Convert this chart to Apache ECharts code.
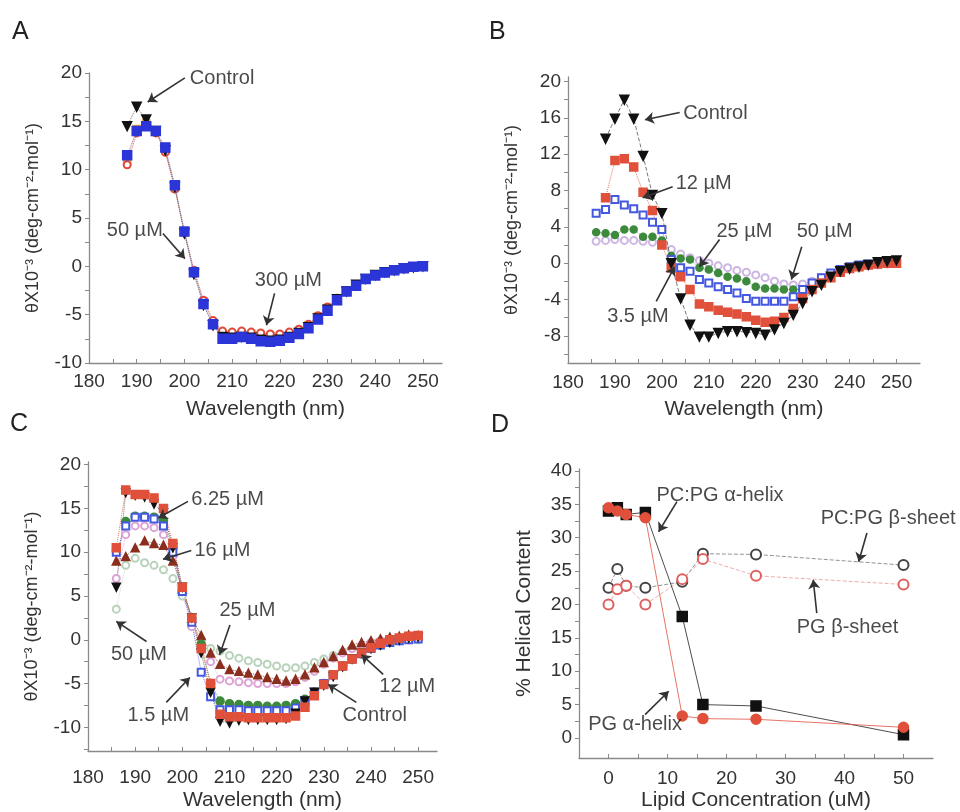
<!DOCTYPE html>
<html><head><meta charset="utf-8">
<script src="https://cdn.jsdelivr.net/npm/echarts@6/dist/echarts.min.js"></script>
<style>html,body{margin:0;padding:0;background:#fff}#c{width:960px;height:812px}</style>
</head><body><div id="c"></div>
<script>
// ---------- DATA ----------
const wlA = [188,190,192,194,196,198,200,202,204,206,208,210,212,214,216,218,220,222,224,226,228,230,232,234,236,238,240,242,244,246,248,250];
const A_control = [14.5,16.5,15.2,14.0,12.0,8.2,3.4,-0.8,-4.0,-6.1,-7.3,-7.4,-7.3,-7.4,-7.6,-7.7,-7.6,-7.3,-6.9,-6.3,-5.4,-4.5,-3.4,-2.6,-1.9,-1.3,-0.9,-0.6,-0.4,-0.2,-0.1,0.0];
const A_50 = [10.5,13.8,14.6,13.8,11.8,8.0,3.6,-0.4,-3.5,-5.6,-6.7,-6.8,-6.7,-6.8,-6.9,-7.0,-7.0,-6.8,-6.5,-6.0,-5.1,-4.2,-3.3,-2.5,-1.9,-1.3,-0.9,-0.6,-0.4,-0.2,-0.1,0.0];
const A_100 = [11.0,14.2,14.8,13.9,12.0,8.1,3.5,-0.5,-3.6,-5.8,-6.9,-7.0,-6.9,-7.0,-7.1,-7.2,-7.2,-7.0,-6.7,-6.1,-5.2,-4.3,-3.3,-2.5,-1.9,-1.3,-0.9,-0.6,-0.4,-0.2,-0.1,0.0];
const A_300 = [11.5,14.0,14.5,14.0,12.3,8.4,3.6,-0.6,-3.9,-6.0,-7.5,-7.5,-7.3,-7.5,-7.75,-7.8,-7.7,-7.4,-7.0,-6.4,-5.5,-4.6,-3.5,-2.6,-2.0,-1.3,-0.95,-0.65,-0.4,-0.2,-0.05,0.0];

const wlBC = [186,188,190,192,194,196,198,200,202,204,206,208,210,212,214,216,218,220,222,224,226,228,230,232,234,236,238,240,242,244,246,248,250];
const B_control = [null,13.7,15.9,18.0,15.9,11.8,7.5,5.5,0.0,-3.9,-6.8,-8.1,-8.1,-7.7,-7.5,-7.5,-7.6,-7.7,-7.9,-7.3,-6.6,-5.7,-4.4,-3.1,-2.4,-1.5,-0.9,-0.6,-0.4,-0.2,0.1,0.2,0.3];
const B_3p5 = [null,7.2,11.3,11.5,10.6,7.8,5.8,2.0,-0.5,-1.5,-2.9,-4.5,-4.8,-5.2,-5.4,-5.6,-5.9,-6.3,-6.5,-6.4,-6.0,-5.0,-3.9,-2.9,-2.2,-1.6,-1.0,-0.6,-0.4,-0.2,-0.1,0.0,0.0];
const B_12 = [5.5,5.9,7.0,6.4,6.0,5.3,4.5,3.7,0.4,-0.5,-0.9,-1.8,-2.2,-2.6,-2.9,-3.3,-3.9,-4.2,-4.2,-4.2,-4.2,-3.7,-2.9,-2.2,-1.6,-1.1,-0.7,-0.4,-0.2,-0.1,0.0,0.0,0.0];
const B_25 = [3.4,3.3,3.1,3.7,3.7,2.9,2.9,2.5,0.8,0.5,0.4,-0.5,-0.7,-1.1,-1.5,-1.7,-2.0,-2.6,-2.8,-2.8,-2.9,-2.9,-2.9,-2.3,-1.7,-1.2,-0.8,-0.5,-0.3,-0.2,-0.1,0.0,0.0];
const B_50 = [2.4,2.5,2.6,2.5,2.5,2.4,2.3,2.2,1.5,1.0,0.6,0.3,0.0,-0.3,-0.5,-0.8,-1.0,-1.3,-1.6,-2.0,-2.3,-2.4,-2.3,-2.0,-1.6,-1.2,-0.9,-0.6,-0.4,-0.3,-0.2,-0.1,0.0];

const C_control = [6.0,16.8,16.5,16.3,15.5,14.5,10.5,6.0,2.5,-1.5,-6.0,-9.3,-9.5,-9.2,-9.1,-9.1,-9.1,-9.1,-9.0,-8.4,-7.0,-6.0,-5.2,-4.2,-3.1,-2.2,-1.5,-1.0,-0.6,-0.3,0.0,0.2,0.3];
const C_1p5 = [10.0,13.0,14.0,14.0,13.8,13.0,10.0,5.5,2.0,-3.7,-6.5,-8.0,-8.0,-8.0,-8.1,-8.1,-8.1,-8.1,-8.1,-7.8,-7.0,-6.0,-5.0,-4.0,-3.0,-2.2,-1.6,-1.0,-0.6,-0.3,-0.1,0.0,0.1];
const C_6p25 = [10.5,17.1,16.6,16.6,16.2,15.0,11.0,6.0,2.5,-1.0,-5.0,-8.5,-8.8,-8.8,-8.9,-8.9,-8.9,-8.9,-8.9,-8.7,-7.7,-6.4,-5.1,-4.0,-3.0,-2.2,-1.5,-0.9,-0.4,0.0,0.2,0.4,0.5];
const C_12 = [null,13.5,14.1,14.1,14.0,13.6,10.5,5.5,2.5,-0.5,-5.0,-7.0,-7.3,-7.4,-7.5,-7.5,-7.6,-7.6,-7.5,-7.3,-6.8,-6.0,-5.0,-4.0,-3.0,-2.2,-1.6,-1.0,-0.6,-0.3,-0.1,0.1,0.2];
const C_16 = [9.0,9.5,10.5,11.3,11.0,10.8,9.0,5.8,2.5,0.5,-1.5,-2.8,-3.4,-3.6,-3.8,-4.0,-4.3,-4.5,-4.7,-4.5,-4.0,-3.2,-2.6,-1.9,-1.2,-0.6,-0.3,-0.1,0.1,0.3,0.4,0.55,0.5];
const C_25 = [7.0,12.0,13.0,13.0,12.8,12.0,9.5,5.5,1.5,-1.0,-2.5,-4.5,-4.7,-4.8,-4.9,-5.0,-5.0,-5.0,-5.0,-4.8,-4.3,-3.6,-2.8,-2.1,-1.5,-1.0,-0.6,-0.3,-0.1,0.0,0.1,0.1,0.2];
const C_50 = [3.5,8.5,9.3,8.8,8.5,8.0,7.0,5.0,2.0,0.0,-1.0,-1.3,-1.8,-2.1,-2.4,-2.6,-2.8,-3.0,-3.2,-3.2,-3.0,-2.6,-2.2,-1.8,-1.4,-1.0,-0.7,-0.5,-0.3,-0.2,-0.1,0.0,0.0];

const concD = [0,1.5,3,6.25,12.5,16,25,50];
const D_pcpg_alpha = [34.0,34.5,33.5,33.8,18.2,5.0,4.8,0.5];
const D_pg_alpha = [34.5,34.0,33.5,33.0,3.3,2.9,2.8,1.6];
const D_pcpg_beta = [22.5,25.3,22.8,22.5,23.4,27.6,27.5,25.9];
const D_pg_beta = [20.0,22.3,22.8,20.0,23.8,26.8,24.3,23.0];

// tick labels / tick marks
const wlLabels = [180,190,200,210,220,230,240,250];
const wlTicks = [180,185,190,195,200,205,210,215,220,225,230,235,240,245,250];
const yLabelsA = [-10,-5,0,5,10,15,20];
const yTicksA = [-10,-7.5,-5,-2.5,0,2.5,5,7.5,10,12.5,15,17.5,20];
const yLabelsB = [-8,-4,0,4,8,12,16,20];
const yTicksB = [-10,-8,-6,-4,-2,0,2,4,6,8,10,12,14,16,18,20];
const yLabelsC = [-10,-5,0,5,10,15,20];
const yTicksC = [-12.5,-10,-7.5,-5,-2.5,0,2.5,5,7.5,10,12.5,15,17.5,20];
const xLabelsD = [0,10,20,30,40,50];
const xTicksD = [0,5,10,15,20,25,30,35,40,45,50];
const yLabelsD = [0,5,10,15,20,25,30,35,40];
const yTicksD = [0,2.5,5,7.5,10,12.5,15,17.5,20,22.5,25,27.5,30,32.5,35,37.5,40];

// annotations: [text, textX, textY, arrowFromX, arrowFromY, arrowToX, arrowToY]
const annA = [
  ["Control", 207.9, 19.4, 200.1, 19.5, 192.3, 17.0],
  ["50 µM", 189.6, 3.75, 195.5, 3.4, 200.1, 0.8],
  ["300 µM", 221.8, -1.45, 218.9, -2.8, 217.2, -6.1]
];
const annB = [
  ["Control", 211.4, 16.5, 203.8, 16.6, 196.4, 15.8],
  ["12 µM", 208.9, 8.8, 202.3, 8.4, 195.9, 7.2],
  ["25 µM", 217.6, 3.5, 212.3, 2.6, 208.0, -0.4],
  ["50 µM", 234.7, 3.5, 229.8, 1.8, 227.6, -1.8],
  ["3.5 µM", 194.9, -5.9, 198.8, -4.2, 202.7, -0.4]
];
const annC = [
  ["6.25 µM", 209.6, 16.0, 201.2, 15.8, 194.9, 13.9],
  ["16 µM", 208.5, 10.2, 201.9, 10.2, 195.9, 9.2],
  ["25 µM", 213.8, 3.4, 210.1, 1.7, 207.9, -1.7],
  ["50 µM", 190.8, -1.7, 192.4, -0.2, 186.0, 2.1],
  ["1.5 µM", 194.9, -8.65, 196.6, -7.15, 201.6, -4.3],
  ["12 µM", 247.7, -5.3, 242.6, -3.95, 238.0, -1.7],
  ["Control", 240.8, -8.65, 236.9, -7.15, 230.9, -5.1]
];
const annD = [
  ["PC:PG α-helix", 18.9, 36.4, 11.6, 35.4, 8.5, 30.9],
  ["PC:PG β-sheet", 47.4, 32.9, 43.8, 30.7, 42.4, 26.4],
  ["PG β-sheet", 40.5, 16.5, 35.3, 18.7, 34.7, 23.7],
  ["PG α-helix", 4.5, 2.0, 6.2, 3.5, 10.2, 7.0]
];

// ---------- BUILD ----------
const FF = 'Liberation Sans, Arial, Helvetica, sans-serif';
const TXT = '#1c1c1c';
const AX = '#8a8a8a';
function pairs(xs, ys){ const o=[]; for(let i=0;i<xs.length;i++){ if(ys[i]!==null && ys[i]!==undefined) o.push([xs[i], ys[i]]); } return o; }

function xAxis(gi, min, max, labels, ticks, name, gap, margin){
  return {type:'value', gridIndex:gi, min:min, max:max, name:name, nameLocation:'middle', nameGap:gap,
    nameTextStyle:{fontFamily:FF, fontSize:21, color:'#333'},
    axisLine:{show:true, onZero:false, lineStyle:{color:AX, width:1.3}},
    axisTick:{show:true, inside:true, length:4, customValues:ticks, lineStyle:{color:AX, width:1}},
    axisLabel:{show:true, customValues:labels, margin:margin, fontFamily:FF, fontSize:19, color:'#333'},
    splitLine:{show:false}};
}
function yAxis(gi, min, max, labels, ticks, name, gap, nameSize){
  return {type:'value', gridIndex:gi, min:min, max:max, name:name, nameLocation:'middle', nameGap:gap,
    nameTextStyle:{fontFamily:FF, fontSize:nameSize, color:'#333'},
    axisLine:{show:true, onZero:false, lineStyle:{color:AX, width:1.3}},
    axisTick:{show:true, inside:false, length:4, customValues:ticks, lineStyle:{color:AX, width:1}},
    axisLabel:{show:true, customValues:labels, margin:7, fontFamily:FF, fontSize:19, color:'#333'},
    splitLine:{show:false}};
}
function curve(gi, xs, ys, symbol, color, size, lineType, rot, lineColor, z){
  return {type:'line', xAxisIndex:gi, yAxisIndex:gi, data:pairs(xs, ys), symbol:symbol, symbolSize:size,
    symbolRotate:rot||0, showSymbol:true, connectNulls:false, z:z||2,
    itemStyle:{color:color, borderColor:color, borderWidth:1.5},
    lineStyle:{color:lineColor||color, width:1, type:lineType, opacity:0.8}, silent:true};
}
function annSeries(gi, ann){
  return [
    {type:'lines', coordinateSystem:'cartesian2d', xAxisIndex:gi, yAxisIndex:gi, z:20, silent:true,
      symbol:['none','arrow'], symbolSize:9,
      lineStyle:{color:'#333', width:1.6, opacity:1, curveness:0},
      data:ann.map(a=>({coords:[[a[3],a[4]],[a[5],a[6]]]}))},
    {type:'scatter', xAxisIndex:gi, yAxisIndex:gi, z:21, silent:true, symbolSize:1,
      itemStyle:{color:'rgba(0,0,0,0)'},
      label:{show:true, position:'inside', formatter:'{b}', fontFamily:FF, fontSize:20, color:TXT},
      data:ann.map(a=>({name:a[0], value:[a[1], a[2]]}))}
  ];
}

const yName = 'θX10⁻³ (deg-cm⁻²-mol⁻¹)';
const option = {
  animation:false,
  backgroundColor:'#ffffff',
  grid:[
    {left:89, top:73, width:353, height:290, containLabel:false},
    {left:568, top:77, width:352, height:286, containLabel:false},
    {left:88, top:462, width:349, height:292, containLabel:false},
    {left:579, top:469, width:354, height:289, containLabel:false}
  ],
  xAxis:[
    xAxis(0, 180, 254, wlLabels, wlTicks, 'Wavelength (nm)', 36, 9),
    xAxis(1, 180, 255, wlLabels, wlTicks, 'Wavelength (nm)', 36, 10),
    xAxis(2, 180, 254, wlLabels, wlTicks, 'Wavelength (nm)', 39, 17),
    xAxis(3, -5, 55, xLabelsD, xTicksD, 'Lipid Concentration (uM)', 32, 11)
  ],
  yAxis:[
    yAxis(0, -10, 20, yLabelsA, yTicksA, yName, 47, 18),
    yAxis(1, -11, 20.5, yLabelsB, yTicksB, yName, 47, 18),
    yAxis(2, -12.7, 20.3, yLabelsC, yTicksC, yName, 47, 18),
    yAxis(3, -3, 40.3, yLabelsD, yTicksD, '% Helical Content', 44, 21)
  ],
  graphic:[
    {type:'text', left:12, top:20, style:{text:'A', font:'25px '+FF, fill:'#222'}},
    {type:'text', left:489, top:20, style:{text:'B', font:'25px '+FF, fill:'#222'}},
    {type:'text', left:10, top:412, style:{text:'C', font:'25px '+FF, fill:'#222'}},
    {type:'text', left:491, top:413, style:{text:'D', font:'25px '+FF, fill:'#222'}}
  ],
  series:[
    // A
    curve(0, wlA, A_100, 'rect', '#e8a040', 7, 'dotted'),
    curve(0, wlA, A_50, 'emptyCircle', '#e0483a', 7, 'dotted'),
    curve(0, wlA, A_control, 'triangle', '#111111', 9, 'dotted', 180, '#555', 3),
    curve(0, wlA, A_300, 'rect', '#2b35d8', 9, 'dotted', 0, '#6a70e0', 4),
    // B
    curve(1, wlBC, B_50, 'emptyCircle', '#cdb6e3', 7, 'dotted'),
    curve(1, wlBC, B_25, 'circle', '#3d8a3d', 7, 'dotted'),
    curve(1, wlBC, B_12, 'emptyRect', '#4458e0', 7, 'dotted'),
    curve(1, wlBC, B_3p5, 'rect', '#e0503a', 8, 'dotted'),
    curve(1, wlBC, B_control, 'triangle', '#111111', 9, 'dashed', 180, '#555', 4),
    // C
    curve(2, wlBC, C_50, 'emptyCircle', '#b9d3bb', 7, 'dotted'),
    curve(2, wlBC, C_25, 'emptyCircle', '#dca3d6', 7, 'dotted'),
    curve(2, wlBC, C_16, 'triangle', '#8b2e1e', 8, 'dotted'),
    curve(2, wlBC, C_12, 'circle', '#3d8a3d', 8, 'dotted'),
    curve(2, wlBC, C_1p5, 'emptyRect', '#4458e0', 7, 'dotted'),
    curve(2, wlBC, C_control, 'triangle', '#111111', 8, 'dotted', 180, '#555'),
    curve(2, wlBC, C_6p25, 'rect', '#e0503a', 8, 'dotted'),
    // D
    curve(3, concD, D_pcpg_beta, 'emptyCircle', '#444444', 10, 'dashed', 0, '#777'),
    curve(3, concD, D_pg_beta, 'emptyCircle', '#e06060', 10, 'dashed', 0, '#e89a9a'),
    curve(3, concD, D_pcpg_alpha, 'rect', '#111111', 10, 'solid', 0, '#222'),
    curve(3, concD, D_pg_alpha, 'circle', '#e0503a', 10, 'solid', 0, '#e05040'),
    ...annSeries(0, annA),
    ...annSeries(1, annB),
    ...annSeries(2, annC),
    ...annSeries(3, annD)
  ]
};
const chart = echarts.init(document.getElementById('c'), null, {renderer:'canvas'});
chart.setOption(option);
</script>
</body></html>
